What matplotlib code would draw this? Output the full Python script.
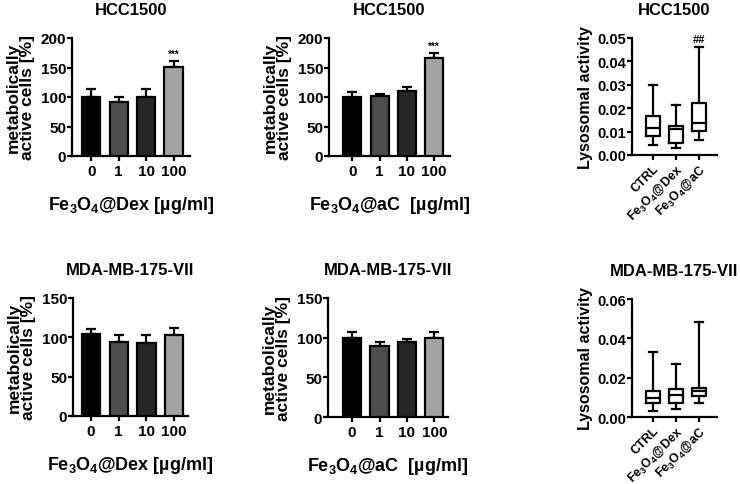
"""Cell viability (bars) and lysosomal activity (box plots) for two cell lines."""

import matplotlib

matplotlib.use("Agg")
import matplotlib.pyplot as plt

plt.rcParams["font.family"] = ["Liberation Sans", "DejaVu Sans"]
plt.rcParams["font.weight"] = "bold"
plt.rcParams["axes.labelweight"] = "bold"
plt.rcParams["axes.titleweight"] = "bold"
plt.rcParams["mathtext.fontset"] = "custom"
plt.rcParams["mathtext.rm"] = "Liberation Sans:bold"
plt.rcParams["mathtext.it"] = "Liberation Sans:bold"
plt.rcParams["mathtext.bf"] = "Liberation Sans:bold"

# ---------------------------------------------------------------------------
# Data
# ---------------------------------------------------------------------------

doses = ["0", "1", "10", "100"]

hcc_dex_mean = [100, 91, 100, 151]
hcc_dex_err = [14, 9, 13, 10]
hcc_ac_mean = [100, 102, 110, 166]
hcc_ac_err = [9, 3, 7, 8]

mda_dex_mean = [104, 94, 93, 103]
mda_dex_err = [6, 9, 10, 9]
mda_ac_mean = [100, 89, 95, 100]
mda_ac_err = [7, 5, 3, 7]

groups = ["CTRL", r"Fe$_3$O$_4$@Dex", r"Fe$_3$O$_4$@aC"]

# whisker low, Q1, median, Q3, whisker high
hcc_lyso_low = [0.0044, 0.0029, 0.0063]
hcc_lyso_q1 = [0.0080, 0.0051, 0.0104]
hcc_lyso_med = [0.0114, 0.0111, 0.0135]
hcc_lyso_q3 = [0.0168, 0.0123, 0.0224]
hcc_lyso_high = [0.0299, 0.0214, 0.0460]

mda_lyso_low = [0.0031, 0.0039, 0.0070]
mda_lyso_q1 = [0.0070, 0.0071, 0.0108]
mda_lyso_med = [0.0095, 0.0113, 0.0134]
mda_lyso_q3 = [0.0132, 0.0141, 0.0149]
mda_lyso_high = [0.0329, 0.0270, 0.0485]

bar_colors = ["#000000", "#4d4d4d", "#262626", "#a3a3a3"]

W, H = 740, 485
LW = 1.6


def _axes(fig, x0, y_top, x1, y_bot):
    return fig.add_axes([x0 / W, 1 - y_bot / H, (x1 - x0) / W, (y_bot - y_top) / H])


def _style(ax, size):
    for s in ("top", "right"):
        ax.spines[s].set_visible(False)
    for s in ("left", "bottom"):
        ax.spines[s].set_linewidth(LW)
    ax.tick_params(width=LW, length=3.5, labelsize=size)
    ax.tick_params(axis="y", pad=0.8)
    ax.tick_params(axis="x", pad=2.5)
    for lab in ax.get_xticklabels() + ax.get_yticklabels():
        lab.set_fontweight("bold")


# ---------------------------------------------------------------------------
# Panels
# ---------------------------------------------------------------------------


def bar_panel(ax, means, errs, title, xlabel, ymax, xlim, star=None):
    xs = range(len(doses))
    ax.bar(xs, means, width=0.66, color=bar_colors, edgecolor="black",
           linewidth=LW, zorder=3)
    ax.errorbar(xs, means, yerr=[[0] * len(errs), errs], fmt="none",
                ecolor="black", elinewidth=LW, capsize=3.3, capthick=LW, zorder=2)
    ax.set_xticks(list(xs))
    ax.set_xticklabels(doses)
    ax.set_xlim(*xlim)
    ax.set_ylim(0, ymax)
    ax.set_yticks(range(0, ymax + 1, 50))
    ax.set_ylabel("metabolically\nactive cells [%]", fontsize=12.5,
                  linespacing=0.9, labelpad=4)
    ax.set_xlabel(xlabel, fontsize=13, labelpad=11)
    ax.set_title(title, fontsize=12, pad=17)
    if star:
        ax.text(3, means[3] + errs[3] + 4, star, ha="center", va="bottom",
                fontsize=7)
    _style(ax, 11)


def box_panel(ax, low, q1, med, q3, high, title, yticks, xlim, mark=None):
    stats = [
        {"whislo": low[i], "q1": q1[i], "med": med[i], "q3": q3[i],
         "whishi": high[i], "label": groups[i]}
        for i in range(len(groups))
    ]
    line = dict(color="black", linewidth=LW)
    ax.bxp(stats, positions=range(len(groups)), widths=0.62, showfliers=False,
           boxprops=line, whiskerprops=line, capprops=line, medianprops=line,
           capwidths=0.35)
    ax.set_xlim(*xlim)
    ax.set_ylim(yticks[0], yticks[-1])
    ax.set_yticks(yticks)
    ax.set_yticklabels([f"{t:.2f}" for t in yticks])
    ax.set_xticks(range(len(groups)))
    ax.set_xticklabels(groups, rotation=45, ha="right", rotation_mode="anchor",
                       fontsize=9)
    ax.set_ylabel("Lysosomal activity", fontsize=11.5, labelpad=3)
    ax.set_title(title, fontsize=12, pad=17)
    if mark:
        ax.text(2, high[2] + 0.0015, mark, ha="center", va="bottom", fontsize=8)
    _style(ax, 10.5)
    ax.tick_params(axis="x", labelsize=9, pad=1.5)


# ---------------------------------------------------------------------------
# Figure
# ---------------------------------------------------------------------------


def main():
    fig = plt.figure(figsize=(W / 100, H / 100), dpi=100)

    dex_label = r"Fe$_3$O$_4$@Dex [µg/ml]"
    ac_label = r"Fe$_3$O$_4$@aC  [µg/ml]"

    bar_panel(_axes(fig, 72, 39, 190, 157), hcc_dex_mean, hcc_dex_err,
              "HCC1500", dex_label, 200, (-0.7, 3.6), star="***")
    bar_panel(_axes(fig, 329, 39, 450, 157), hcc_ac_mean, hcc_ac_err,
              "HCC1500", ac_label, 200, (-0.86, 3.59), star="***")
    box_panel(_axes(fig, 632, 39, 717, 156), hcc_lyso_low, hcc_lyso_q1,
              hcc_lyso_med, hcc_lyso_q3, hcc_lyso_high, "HCC1500",
              [0.0, 0.01, 0.02, 0.03, 0.04, 0.05], (-0.9, 2.8), mark="##")

    bar_panel(_axes(fig, 73, 299, 188, 417), mda_dex_mean, mda_dex_err,
              "MDA-MB-175-VII", dex_label, 150, (-0.65, 3.5))
    bar_panel(_axes(fig, 328, 299, 448, 418), mda_ac_mean, mda_ac_err,
              "MDA-MB-175-VII", ac_label, 150, (-0.88, 3.5))
    box_panel(_axes(fig, 632, 300, 717, 418), mda_lyso_low, mda_lyso_q1,
              mda_lyso_med, mda_lyso_q3, mda_lyso_high, "MDA-MB-175-VII",
              [0.0, 0.02, 0.04, 0.06], (-0.9, 2.8))

    fig.savefig("out.png", dpi=100)
    plt.close(fig)


if __name__ == "__main__":
    main()
